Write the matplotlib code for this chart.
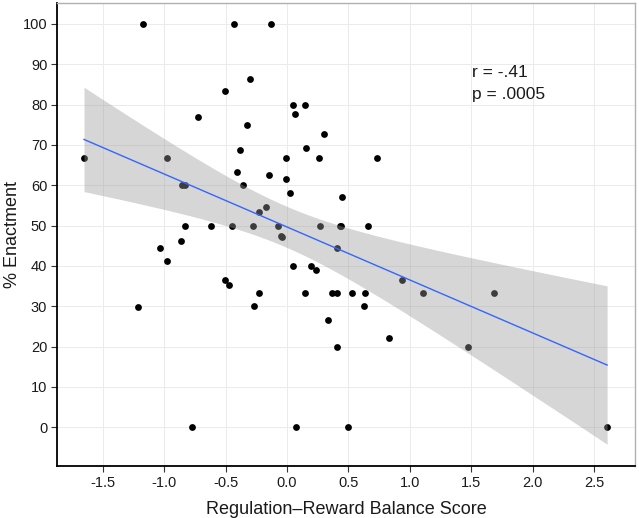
import numpy as np
import matplotlib
matplotlib.use("Agg")
import matplotlib.pyplot as plt

plt.rcParams['font.family'] = ['Liberation Sans', 'DejaVu Sans']

balance = [-1.654, -1.212, -1.177, -1.036, -0.98, -0.98, -0.866, -0.853, -0.834, -0.832,
           -0.777, -0.726, -0.618, -0.508, -0.508, -0.475, -0.451, -0.429, -0.407, -0.386,
           -0.362, -0.324, -0.30, -0.278, -0.273, -0.225, -0.225, -0.170, -0.146, -0.132,
           -0.070, -0.051, -0.038, -0.011, -0.011, 0.024, 0.046, 0.051, 0.067, 0.070,
           0.146, 0.148, 0.151, 0.192, 0.238, 0.259, 0.267, 0.302, 0.337, 0.370,
           0.408, 0.407, 0.410, 0.429, 0.437, 0.451, 0.497, 0.526, 0.626, 0.634,
           0.659, 0.731, 0.828, 0.937, 1.107, 1.476, 1.687, 2.607]
enactment = [66.7, 29.9, 100, 44.5, 66.7, 41.2, 46.3, 60, 60, 50,
             0, 76.9, 50, 83.4, 36.4, 35.3, 50, 100, 63.3, 68.8,
             60, 75, 86.4, 50, 30, 53.3, 33.3, 54.6, 62.5, 100,
             50, 47.5, 47.1, 66.7, 61.5, 58.0, 80, 40, 77.7, 0,
             80, 33.3, 69.2, 40, 39, 66.7, 50, 72.7, 26.7, 33.3,
             33.3, 44.5, 20, 50, 50, 57.1, 0, 33.3, 30, 33.3,
             50, 66.7, 22.2, 36.4, 33.3, 20, 33.3, 0]

xticks = [-1.5, -1.0, -0.5, 0.0, 0.5, 1.0, 1.5, 2.0, 2.5]
yticks = [0, 10, 20, 30, 40, 50, 60, 70, 80, 90, 100]
annotation = ["r = -.41", "p = .0005"]

x = np.array(balance)
y = np.array(enactment)
n = len(x)
b1, b0 = np.polyfit(x, y, 1)
xs = np.linspace(x.min(), x.max(), 200)
ys = b0 + b1 * xs
resid = y - (b0 + b1 * x)
s = np.sqrt(np.sum(resid ** 2) / (n - 2))
sxx = np.sum((x - x.mean()) ** 2)
se = s * np.sqrt(1.0 / n + (xs - x.mean()) ** 2 / sxx)
tval = 1.997
lo, hi = ys - tval * se, ys + tval * se

fig = plt.figure(figsize=(6.39, 5.18), dpi=100)
ax = fig.add_axes([0.0892, 0.1004, 0.9045, 0.8938])

ax.scatter(x, y, s=24, color='black', zorder=2, linewidths=0)
ax.fill_between(xs, lo, hi, color='#999999', alpha=0.4, linewidth=0, zorder=3)
ax.plot(xs, ys, color='#3366FF', linewidth=1.0, zorder=4)

ax.set_xticks(xticks)
ax.set_xticklabels([f"{t:.1f}" for t in xticks])
ax.set_yticks(yticks)
ax.set_xlim(-1.874, 2.834)
ax.set_ylim(-9.6, 105.2)
ax.grid(True, color='#ebebeb', linewidth=0.7, zorder=0)
ax.set_axisbelow(True)

for side in ['left', 'bottom']:
    ax.spines[side].set_color('black')
    ax.spines[side].set_linewidth(1.3)
for side in ['top', 'right']:
    ax.spines[side].set_color('#b0b0b0')
    ax.spines[side].set_linewidth(1.0)

ax.tick_params(axis='both', length=4, width=0.8, color='#333333', labelsize=10.5,
               labelcolor='#1a1a1a', pad=3)
ax.set_xlabel("Regulation\u2013Reward Balance Score", fontsize=13, color='#1a1a1a', labelpad=8)
ax.set_ylabel("% Enactment", fontsize=13, color='#1a1a1a', va='center')
ax.yaxis.set_label_coords(-0.077, 0.5)

ax.text(1.506, 87.9, annotation[0], fontsize=12.5, va='center', ha='left', color='#1a1a1a')
ax.text(1.506, 82.4, annotation[1], fontsize=12.5, va='center', ha='left', color='#1a1a1a')

fig.savefig("out.png", dpi=100)
